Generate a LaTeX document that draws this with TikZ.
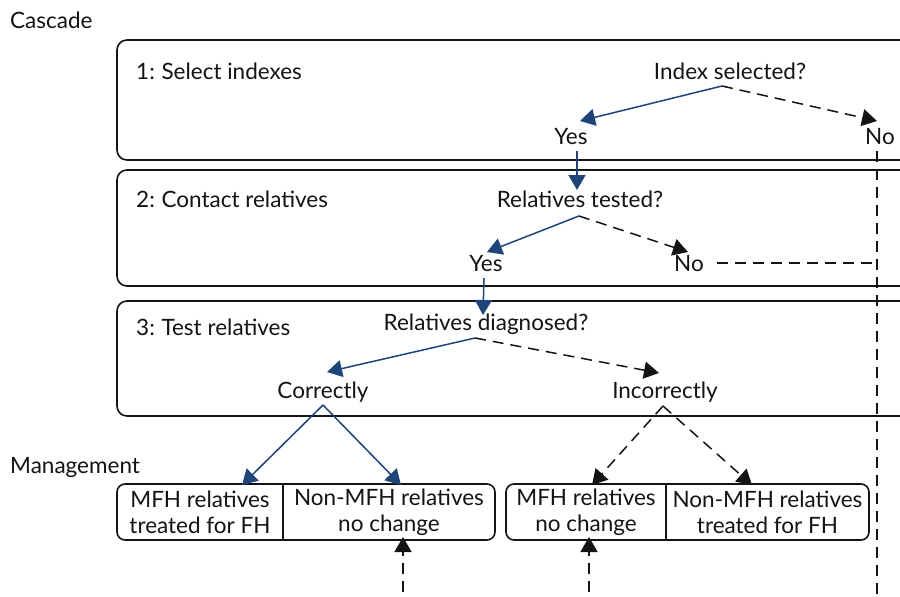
\documentclass[tikz,border=0pt]{standalone}
\usepackage{fontspec}
\setmainfont{Lato}
\usetikzlibrary{arrows.meta,calc}
\definecolor{navy}{RGB}{30,68,122}
\definecolor{ink}{RGB}{20,20,20}
\begin{document}
\begin{tikzpicture}[x=1pt,y=-1pt,
  every node/.style={font=\fontsize{22.5}{26}\selectfont, text=ink},
  lbl/.style={anchor=base, inner sep=0pt},
  lblw/.style={anchor=base west, inner sep=0pt},
  stage/.style={draw=ink, line width=1.6pt, rounded corners=10pt},
  half/.style={inner sep=0pt, outer sep=0pt, minimum height=56pt, align=center},
  yesarrow/.style={draw=navy, line width=1.5pt, -{Triangle[length=15pt,width=17pt]}},
  noarrow/.style={draw=ink, line width=1.5pt, dash pattern=on 11pt off 7pt, -{Triangle[length=15pt,width=17pt]}},
  noline/.style={draw=ink, line width=1.5pt, dash pattern=on 11pt off 7pt},
  mbox/.style={draw=ink, line width=1.6pt, rounded corners=8pt}
]
\clip (0,0) rectangle (900,597);
\fill[white] (0,0) rectangle (900,597);

% stage boxes
\draw[stage] (117,40) rectangle (930,160);
\draw[stage] (117,170) rectangle (930,286);
\draw[stage] (117,301) rectangle (930,416);

% headings
\node[lblw] (cascade) at (10,28) {Cascade};
\node[lblw] (mgmt) at (10,473) {Management};
\node[lblw] (t1) at (136,79) {1:\kern-1pt{} Select indexes};
\node[lblw] (t2) at (136,207) {2:\kern-1pt{} Contact relatives};
\node[lblw] (t3) at (136,335) {3:\kern-1pt{} Test relatives};

% questions and answers
\node[lbl] (q1) at (730,79) {Index selected?};
\node[lbl] (yes1) at (571,144) {Yes};
\node[lbl] (no1) at (880,144) {No};
\node[lbl] (q2) at (580,207) {Relatives tested?};
\node[lbl] (yes2) at (486,271) {Yes};
\node[lbl] (no2) at (689,271) {No};
\node[lbl] (q3) at (486,330) {Relatives diagnosed?};
\node[lbl] (corr) at (323,398) {Correctly};
\node[lbl] (incorr) at (665,398) {Incorrectly};

% management boxes
\node[half, minimum width=166pt] (m1a) at (200,512) {MFH relatives\\treated for FH};
\node[half, minimum width=212pt] (m1b) at (389,512) {Non-MFH relatives\\no change};
\node[half, minimum width=160pt] (m2a) at (586,512) {MFH relatives\\no change};
\node[half, minimum width=203pt] (m2b) at (767.5,512) {Non-MFH relatives\\treated for FH};
\draw[mbox] (m1a.north west) rectangle (m1b.south east);
\draw[draw=ink, line width=1.3pt] (m1a.north east) -- (m1a.south east);
\draw[mbox] (m2a.north west) rectangle (m2b.south east);
\draw[draw=ink, line width=1.3pt] (m2a.north east) -- (m2a.south east);

% branch points
\coordinate (b1) at ($(q1.base)+(-8,7)$);
\coordinate (b2) at ($(q2.base)+(-1,9)$);
\coordinate (b3) at ($(q3.base)+(-11,8)$);
\coordinate (b4) at ($(corr.base)+(0,7)$);
\coordinate (b5) at ($(incorr.base)+(-2,8)$);
\coordinate (bottomA) at ($(m1b.south)+(14,70)$);
\coordinate (bottomB) at ($(m2a.south)+(3,70)$);
\coordinate (bottomC) at ($(no1.base)+(-3,470)$);
\coordinate (turn) at ($(no1.base)+(-3,119)$);

% stage 1
\draw[yesarrow] (b1) -- ($(yes1.base)+(9,-23)$);
\draw[noarrow] (b1) -- ($(no1.base)+(-3,-23)$);
\draw[yesarrow] ($(yes1.base)+(6,7)$) -- ($(q2.base)+(-3,-17)$);
\draw[noline] ($(no1.base)+(-3,7)$) -- (bottomC);

% stage 2
\draw[yesarrow] (b2) -- ($(yes2.base)+(1,-19)$);
\draw[noarrow] (b2) -- ($(no2.base)+(-1,-19)$);
\draw[noline] ($(no2.base)+(28,-8)$) -- (turn);
\draw[yesarrow] ($(yes2.base)+(-2,7)$) -- ($(q3.base)+(-3,-15)$);

% stage 3
\draw[yesarrow] (b3) -- ($(corr.base)+(4,-26)$);
\draw[noarrow] (b3) -- ($(incorr.base)+(-6,-25)$);

% management arrows
\draw[yesarrow] (b4) -- ([xshift=42pt,yshift=-1pt]m1a.north);
\draw[yesarrow] (b4) -- ([xshift=12pt,yshift=-1pt]m1b.north);
\draw[noarrow] (b5) -- ([xshift=6pt,yshift=-1pt]m2a.north);
\draw[noarrow] (b5) -- ([xshift=-15.5pt,yshift=-1pt]m2b.north);
\draw[noarrow] (bottomA) -- ([xshift=14pt,yshift=3pt]m1b.south);
\draw[noarrow] (bottomB) -- ([xshift=3pt,yshift=3pt]m2a.south);
\end{tikzpicture}
\end{document}
